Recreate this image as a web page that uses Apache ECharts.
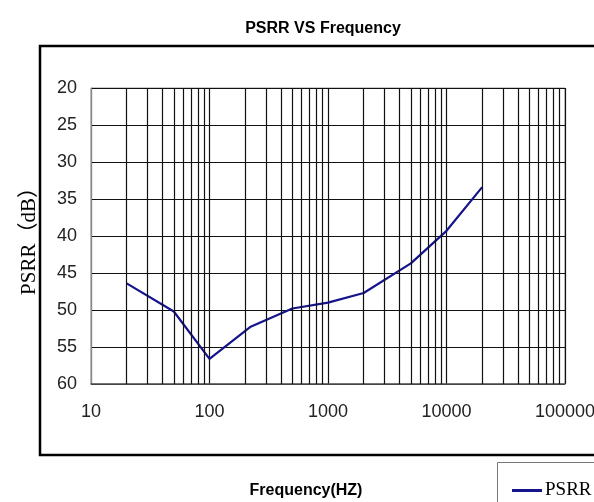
<!DOCTYPE html>
<html>
<head>
<meta charset="utf-8">
<script src="https://cdn.jsdelivr.net/npm/echarts@6/dist/echarts.min.js"></script>
<style>
  html, body { margin: 0; padding: 0; background: #fff; }
  #chart { width: 594px; height: 502px; }
</style>
</head>
<body>
<div id="chart"></div>
<script>
// 数据
const freqs = [20, 50, 100, 220, 500, 1000, 2000, 5000, 10000, 20000];
const psrr = [46.4, 50.2, 56.6, 52.3, 49.8, 49.0, 47.7, 43.7, 39.3, 33.4];
const xTicks = [10, 100, 1000, 10000, 100000];
const yTicks = [20, 25, 30, 35, 40, 45, 50, 55, 60];

const tickFont = "'Liberation Sans', Arial, sans-serif";
const serifFont = "'Liberation Serif', 'Noto Sans CJK SC', serif";

// log 次网格线 (2..9 每个十倍程)
const minorLines = [];
xTicks.slice(0, -1).forEach((d) => {
  for (let k = 2; k <= 9; k++) minorLines.push({ xAxis: d * k });
});

const myChart = echarts.init(document.getElementById('chart'));
myChart.setOption({
  animation: false,
  title: {
    text: 'PSRR VS Frequency',
    left: 318,
    top: 16,
    textAlign: 'center',
    textStyle: { fontFamily: 'Liberation Sans', fontWeight: 'bold', fontSize: 16, color: '#000' }
  },
  graphic: [
    { type: 'rect', shape: { x: 40, y: 46, width: 580, height: 409 }, style: { fill: 'none', stroke: '#000', lineWidth: 2.5 }, silent: true },
    { type: 'rect', shape: { x: 497.5, y: 462.5, width: 120, height: 60 }, style: { fill: 'none', stroke: '#777', lineWidth: 1 }, silent: true }
  ],
  legend: {
    data: [{ name: 'PSRR', icon: 'rect' }],
    left: 507,
    top: 476,
    itemWidth: 30,
    itemHeight: 3,
    itemGap: 4,
    textStyle: { fontFamily: serifFont, fontSize: 19, color: '#000', padding: [0, 0, 0, -2] }
  },
  grid: {
    left: 91, top: 88, width: 474, height: 296,
    outerBoundsMode: 'none',
    show: true, borderColor: '#999', borderWidth: 1
  },
  xAxis: {
    type: 'log',
    logBase: 10,
    min: xTicks[0],
    max: xTicks[xTicks.length - 1],
    name: 'Frequency(HZ)',
    nameLocation: 'middle',
    nameGap: 99,
    nameTextStyle: { fontFamily: 'Liberation Sans', fontWeight: 'bold', fontSize: 16, color: '#000', padding: [0, 44, 0, 0] },
    axisLine: { lineStyle: { color: '#555', width: 1.5 } },
    axisTick: { show: false },
    axisLabel: { fontFamily: tickFont, fontSize: 18, color: '#222', margin: 19, formatter: (v) => String(v) },
    splitLine: { show: true, lineStyle: { color: '#111', width: 1.2 } }
  },
  yAxis: {
    type: 'value',
    inverse: true,
    min: yTicks[0],
    max: yTicks[yTicks.length - 1],
    interval: 5,
    name: 'PSRR（dB）',
    nameLocation: 'middle',
    nameRotate: 90,
    nameGap: 51,
    nameTextStyle: { fontFamily: serifFont, fontSize: 21, color: '#000' },
    axisLine: { show: true, lineStyle: { color: '#888', width: 1 } },
    axisTick: { show: false },
    axisLabel: { fontFamily: tickFont, fontSize: 18, color: '#222', margin: 14 },
    splitLine: { show: true, lineStyle: { color: '#111', width: 1.2 } }
  },
  series: [
    {
      name: 'PSRR',
      type: 'line',
      data: freqs.map((f, i) => [f, psrr[i]]),
      symbol: 'none',
      color: '#14148c',
      lineStyle: { width: 2.2, color: '#14148c' },
      markLine: {
        silent: true,
        symbol: ['none', 'none'],
        label: { show: false },
        lineStyle: { color: '#111', width: 1.2, type: 'solid' },
        data: minorLines
      },
      z: 3
    }
  ]
});
</script>
</body>
</html>
